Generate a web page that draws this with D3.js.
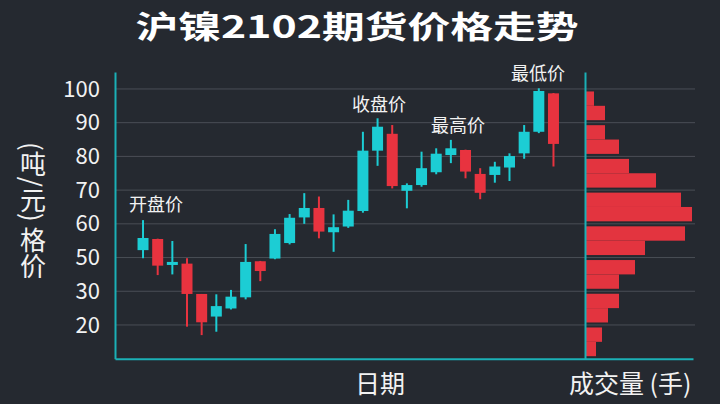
<!DOCTYPE html>
<html>
<head>
<meta charset="utf-8">
<script src="https://cdn.jsdelivr.net/npm/d3@7/dist/d3.min.js"></script>
<style>
  html, body { margin: 0; padding: 0; background: #252930; }
  svg { display: block; }
  text { font-family: "Noto Sans CJK SC", "Noto Sans", sans-serif; }
</style>
</head>
<body>
<svg id="chart" width="720" height="404"></svg>
<script>
// ---------- data ----------
const dates = ["2020-12-01","2020-12-02","2020-12-03","2020-12-04","2020-12-07","2020-12-08",
  "2020-12-09","2020-12-10","2020-12-11","2020-12-14","2020-12-15","2020-12-16","2020-12-17",
  "2020-12-18","2020-12-21","2020-12-22","2020-12-23","2020-12-24","2020-12-25","2020-12-28",
  "2020-12-29","2020-12-30","2020-12-31","2021-01-04","2021-01-05","2021-01-06","2021-01-07",
  "2021-01-08","2021-01-11"];
const openPrices  = [52.2,55.5,47.8,48.2,39.2,32.5,34.9,38.2,48.9,49.7,54.3,61.9,64.7,57.5,59.2,
  63.8,81.7,86.7,69.8,71.5,75.3,80.4,81.9,74.8,74.5,76.7,80.9,87.3,98.7];
const closePrices = [55.8,47.6,48.7,39.2,30.8,35.6,38.4,48.7,46.0,57.0,61.8,64.7,57.7,59.0,63.9,
  81.7,88.8,71.2,71.5,76.5,80.8,82.4,75.5,69.2,77.0,80.1,87.3,99.4,83.7];
const highPrices  = [61.1,55.6,54.9,49.8,39.2,39.1,40.4,54.0,49.0,58.4,62.9,69.1,68.1,62.8,67.1,
  87.3,91.3,89.3,72.0,81.4,82.4,84.9,82.0,76.5,78.4,80.9,89.3,100.2,98.8];
const lowPrices   = [49.8,44.8,45.0,29.5,27.0,28.0,34.6,37.6,43.0,49.5,53.9,60.0,55.7,51.7,58.8,
  63.3,77.2,70.5,64.6,71.0,74.7,78.0,73.5,67.3,72.2,72.7,79.3,86.9,77.0];

const yTickValues = [100, 90, 80, 70, 60, 50, 40, 30];
const yTickLabels = ["100", "90", "80", "70", "60", "50", "30", "20"];

const volumeBins = ["95-100","90-95","85-90","80-85","75-80","70-75","65-70","60-65",
  "55-60","50-55","45-50","40-45","35-40","30-35","25-30","20-25"];
const binHigh = [100,95,90,85,80,75,70,65,60,55,50,45,40,35,30,25];
const volumes = [9, 20, 20, 34, 44, 71, 96, 107, 100, 60, 50, 34, 34, 23, 17, 11];

const annotations = [
  {text: "开盘价", x: 129, y: 205},
  {text: "收盘价", x: 352, y: 105},
  {text: "最高价", x: 431, y: 126},
  {text: "最低价", x: 511, y: 74}
];

// ---------- style ----------
const C_UP = "#1ccdd4", C_DOWN = "#e8333f", C_AXIS = "#1bb0b6", C_GRID = "#4a4e56", C_TEXT = "#f2f2f2";

const svg = d3.select("#chart");
const W = 720, H = 404;
svg.append("rect").attr("width", W).attr("height", H).attr("fill", "#252930");

const plotLeft = 115, plotRight = 695, volAxisX = 585;

const y = d3.scaleLinear().domain([20, 105]).range([358.7, 72.1]);
const x = d3.scaleBand().domain(dates).range([135.7, 560.8]).paddingInner(0.25).paddingOuter(0.125);
const xv = d3.scaleLinear().domain([0, 110]).range([volAxisX, volAxisX + 110]);

// title
svg.append("text")
  .attr("x", 357).attr("y", 37.5)
  .attr("text-anchor", "middle")
  .attr("font-size", 31).attr("font-weight", 700)
  .attr("fill", "#ffffff")
  .attr("textLength", 443).attr("lengthAdjust", "spacingAndGlyphs")
  .text("沪镍2102期货价格走势");

// gridlines
svg.append("g").selectAll("line").data(yTickValues).join("line")
  .attr("x1", plotLeft).attr("x2", plotRight)
  .attr("y1", d => y(d)).attr("y2", d => y(d))
  .attr("stroke", C_GRID).attr("stroke-width", 1);

// left axis
const yAxis = d3.axisLeft(y).tickValues(yTickValues).tickSize(0).tickPadding(15)
  .tickFormat((d, i) => yTickLabels[i]);
const gy = svg.append("g").attr("transform", `translate(${plotLeft},0)`).call(yAxis);
gy.select(".domain").attr("stroke", C_AXIS).attr("stroke-width", 2);
gy.selectAll("text").attr("fill", C_TEXT).attr("font-size", 22)
  .attr("font-family", "'Noto Sans', 'Noto Sans CJK SC', sans-serif");

// candles
const candles = dates.map((d, i) => ({date: d, o: openPrices[i], c: closePrices[i], h: highPrices[i], l: lowPrices[i]}));
const gc = svg.append("g");
gc.selectAll("line.wick").data(candles).join("line").attr("class", "wick")
  .attr("x1", d => x(d.date) + x.bandwidth() / 2).attr("x2", d => x(d.date) + x.bandwidth() / 2)
  .attr("y1", d => y(d.h)).attr("y2", d => y(d.l))
  .attr("stroke", d => d.c >= d.o ? C_UP : C_DOWN).attr("stroke-width", 2);
gc.selectAll("rect.body").data(candles).join("rect").attr("class", "body")
  .attr("x", d => x(d.date)).attr("width", x.bandwidth())
  .attr("y", d => y(Math.max(d.o, d.c)))
  .attr("height", d => Math.max(2, Math.abs(y(d.o) - y(d.c))))
  .attr("fill", d => d.c >= d.o ? C_UP : C_DOWN);

// volume histogram
const gv = svg.append("g");
gv.selectAll("rect").data(volumeBins).join("rect")
  .attr("x", volAxisX)
  .attr("y", (d, i) => y(binHigh[i]) + (i % 2 === 0 ? 2.5 : 0))
  .attr("height", (d, i) => y(binHigh[i] - 5) - y(binHigh[i]) - 2.5)
  .attr("width", (d, i) => xv(volumes[i]) - volAxisX)
  .attr("fill", "#e3343f");

// volume axis
const gva = svg.append("g").attr("transform", `translate(${volAxisX},0)`)
  .call(d3.axisLeft(y).tickValues([]).tickSize(0));
gva.select(".domain").attr("stroke", C_AXIS).attr("stroke-width", 2);

// bottom axis
const xAxisScale = d3.scaleLinear().domain([0, 1]).range([plotLeft, 693]);
const gx = svg.append("g").attr("transform", `translate(0,${y(20)})`)
  .call(d3.axisBottom(xAxisScale).tickValues([]).tickSize(0));
gx.select(".domain").attr("stroke", C_AXIS).attr("stroke-width", 2);

// annotations
svg.append("g").selectAll("text").data(annotations).join("text")
  .attr("x", d => d.x).attr("y", d => d.y)
  .attr("dy", "0.35em")
  .attr("font-size", 18).attr("fill", C_TEXT)
  .text(d => d.text);

// axis titles
svg.append("text").attr("x", 355).attr("y", 384).attr("dy", "0.35em")
  .attr("font-size", 25).attr("fill", C_TEXT).text("日期");
svg.append("text").attr("x", 569).attr("y", 384).attr("dy", "0.35em")
  .attr("font-size", 25).attr("fill", C_TEXT).text("成交量 (手)");
svg.append("text").attr("x", 33).attr("y", 142)
  .attr("writing-mode", "vertical-rl")
  .attr("font-size", 26).attr("fill", C_TEXT)
  .text("(吨/元) 格价");
</script>
</body>
</html>
